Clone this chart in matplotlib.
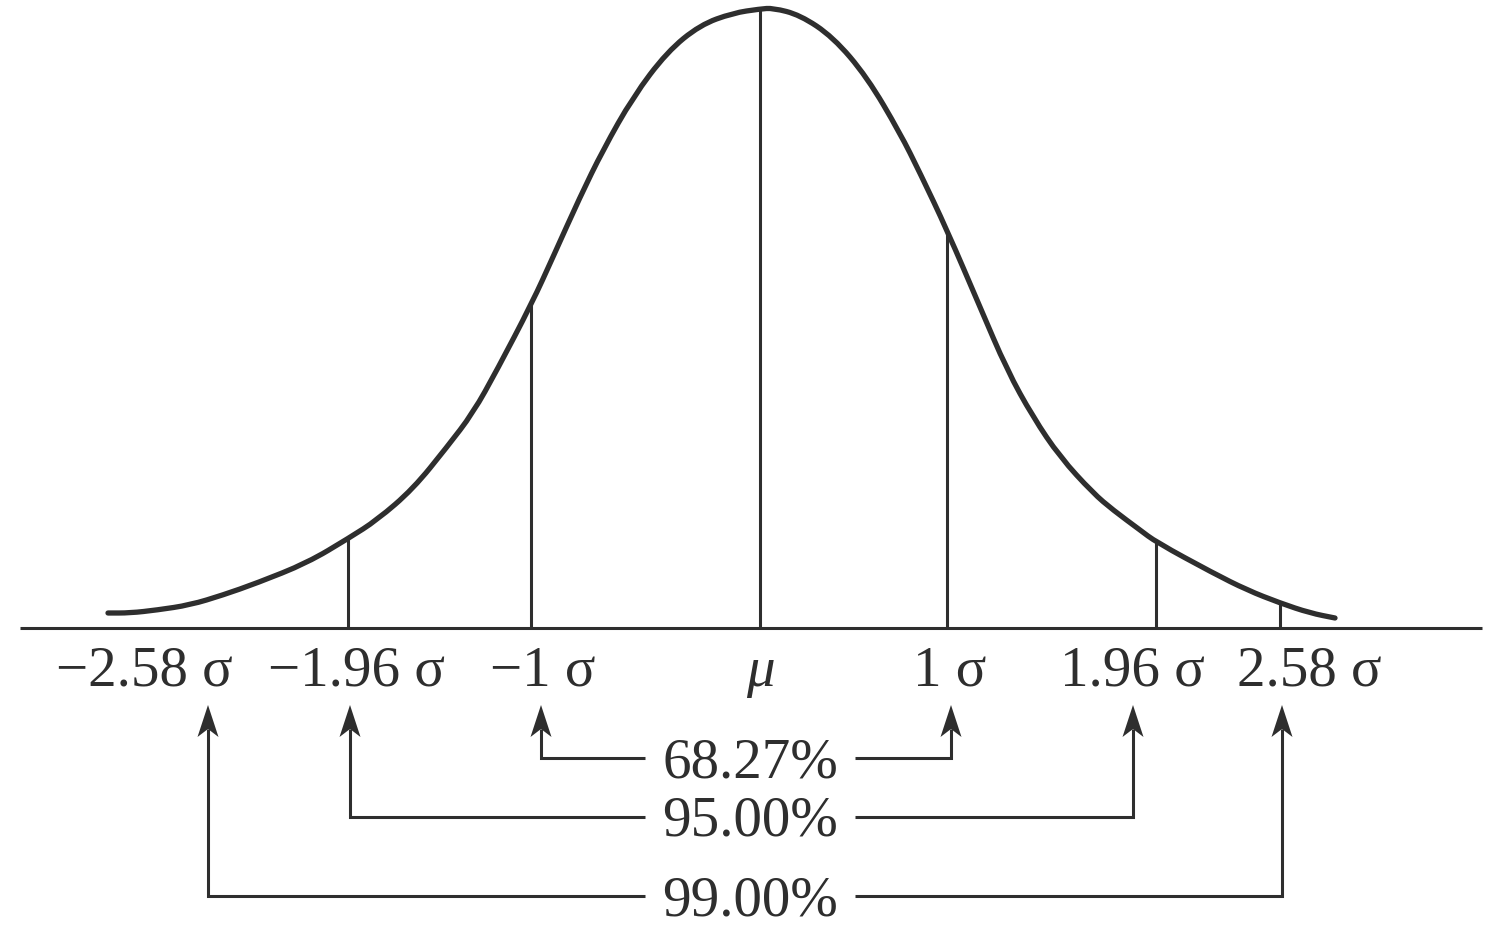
import matplotlib
matplotlib.use("Agg")
import matplotlib.pyplot as plt
from matplotlib.path import Path
from matplotlib.patches import PathPatch
import numpy as np

# ---- data (drawing units: x to the right, y downward) ----
curve_x = [108, 130, 157, 190, 223, 257, 307, 349, 377, 413, 447, 473, 497, 532, 553, 580,
           603, 633, 667, 700, 733, 760, 773, 800, 833, 867, 900, 920, 947, 980, 1007, 1033,
           1060, 1093, 1113, 1140, 1156, 1213, 1247, 1280, 1310, 1335]
curve_y = [613, 613, 610, 605, 595, 583, 563, 538, 520, 489, 447, 413, 370, 303, 257, 197,
           150, 97, 52, 25, 13, 9, 8, 15, 37, 77, 133, 173, 230, 307, 370, 417,
           457, 493, 510, 530, 542, 573, 590, 603, 613, 618]

cut_x = [348, 531, 760, 947, 1156, 1280]
cut_top = [538, 303, 9, 230, 542, 603]

tick_labels = ["\u22122.58 \u03c3", "\u22121.96 \u03c3", "\u22121 \u03c3", "\u03bc",
               "1 \u03c3", "1.96 \u03c3", "2.58 \u03c3"]
tick_label_x = [144, 356, 543, 760, 950, 1132, 1309]

interval_labels = ["68.27%", "95.00%", "99.00%"]
interval_left = [541, 350, 208]
interval_right = [951, 1133, 1282]
interval_row_y = [758, 817, 896]

baseline_y = 628
ink = "#2e2e2e"

fig = plt.figure(figsize=(15, 9.4), dpi=100)
ax = fig.add_axes([0, 0, 1, 1])
ax.set_xlim(0, 1500)
ax.set_ylim(940, 0)
ax.axis("off")

# baseline
ax.plot([20, 1482], [baseline_y, baseline_y], color=ink, lw=2.2, solid_capstyle="butt")

# curve: smooth path using the read points as quadratic control points
pts = np.column_stack([curve_x, curve_y]).astype(float)
verts = [pts[0], (pts[0] + pts[1]) / 2]
codes = [Path.MOVETO, Path.LINETO]
for i in range(1, len(pts) - 1):
    verts += [pts[i], (pts[i] + pts[i + 1]) / 2]
    codes += [Path.CURVE3, Path.CURVE3]
verts.append(pts[-1])
codes.append(Path.LINETO)
ax.add_patch(PathPatch(Path(verts, codes), facecolor="none", edgecolor=ink, lw=3.8,
                       capstyle="round", joinstyle="round"))

# vertical cut lines
ax.vlines(cut_x, cut_top, baseline_y, colors=ink, lw=2.2)

# tick labels
serif = ["Liberation Serif", "DejaVu Serif"]
for lab, x in zip(tick_labels, tick_label_x):
    style = "italic" if lab == "\u03bc" else "normal"
    ax.text(x, 686, lab, ha="center", va="baseline", fontsize=41, family=serif,
            style=style, color=ink)

# interval brackets with arrows
tip_y = 705
head_len = 32
head_half = 10.5
notch = 8
gap_left, gap_right = 645, 855
for lab, xl, xr, ry in zip(interval_labels, interval_left, interval_right, interval_row_y):
    for x, xg in ((xl, gap_left), (xr, gap_right)):
        ax.plot([xg, x, x], [ry, ry, tip_y + head_len - notch], color=ink, lw=2.2,
                solid_joinstyle="miter", solid_capstyle="butt")
        ax.fill([x, x - head_half, x, x + head_half],
                [tip_y, tip_y + head_len, tip_y + head_len - notch, tip_y + head_len],
                color=ink, lw=0)
    ax.text(750, ry + 19, lab, ha="center", va="baseline", fontsize=41, family=serif,
            color=ink)

fig.savefig("out.png", dpi=100)
